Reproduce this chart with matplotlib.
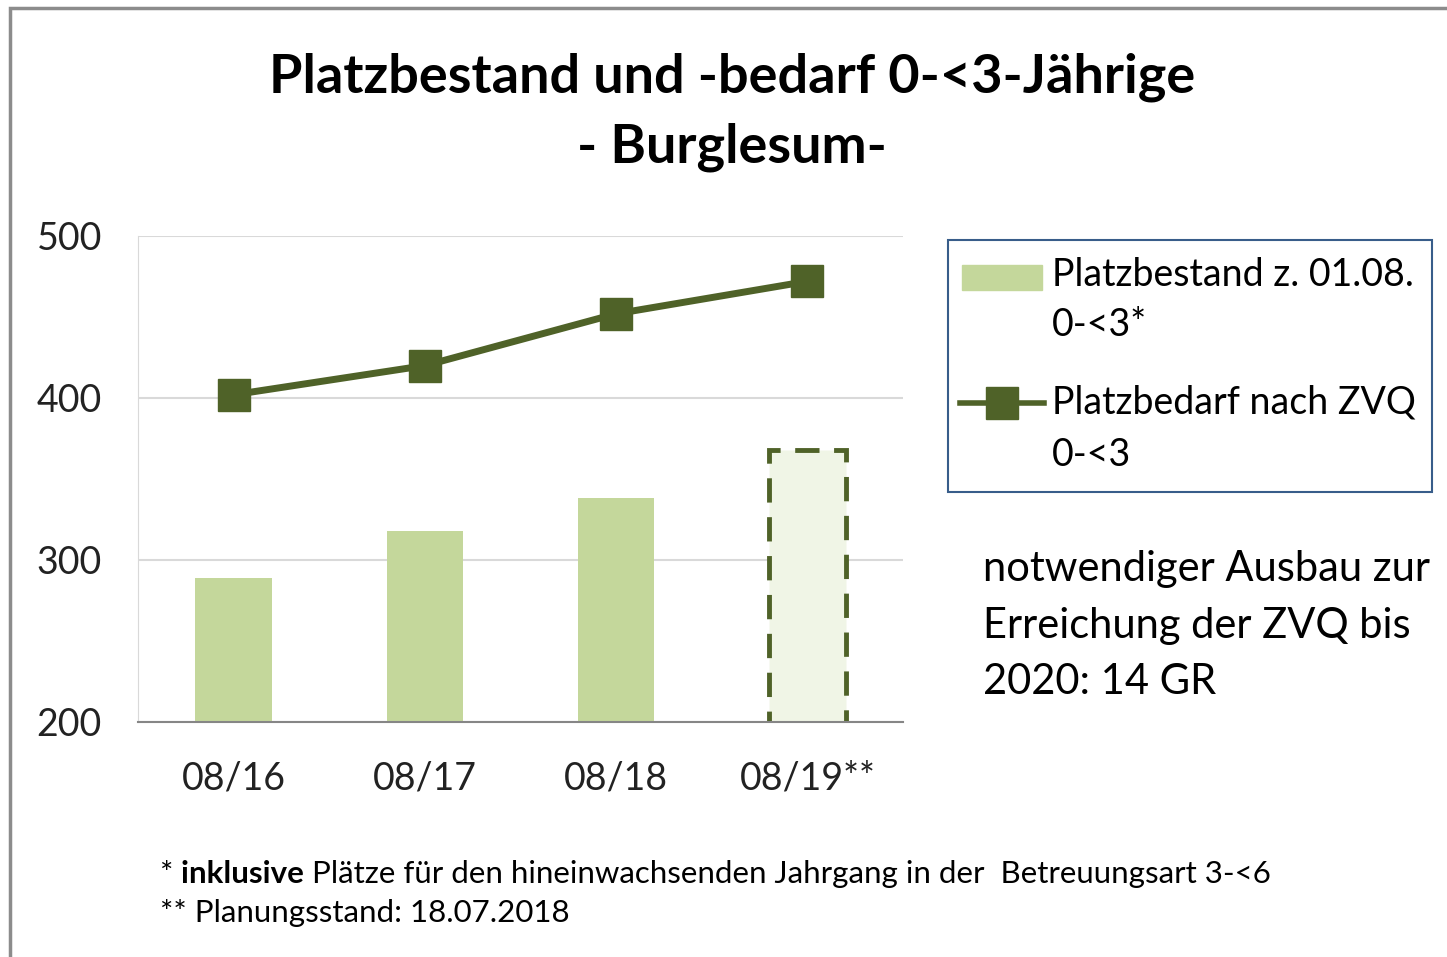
import matplotlib.pyplot as plt
from matplotlib.patches import Rectangle
from matplotlib.lines import Line2D

# data
periods = ['08/16', '08/17', '08/18', '08/19**']
bestand = [289, 318, 338, 368]      # Platzbestand z. 01.08. 0-<3*
bedarf = [402, 420, 452, 472]       # Platzbedarf nach ZVQ 0-<3

light_green = '#C4D79B'
dark_green = '#4F6228'
plan_fill = '#F0F5E6'

plt.rcParams['font.family'] = ['Lato', 'DejaVu Sans']

W, H = 1447, 957
fig = plt.figure(figsize=(W / 100, H / 100), dpi=100)
ax = fig.add_axes([138 / W, 1 - 722 / H, 765 / W, 486 / H])


def fx(px):
    return px / W


def fy(py):
    return 1 - py / H


x = list(range(len(periods)))

# existing places (last one is planned -> dashed outline)
ax.bar(x[:-1], bestand[:-1], width=0.4, color=light_green, zorder=2)
ax.bar(x[-1], bestand[-1], width=0.4, color=plan_fill, edgecolor=dark_green,
       linewidth=3.5, linestyle=(0, (5, 3)), zorder=2)

ax.plot(x, bedarf, color=dark_green, linewidth=5, marker='s', markersize=23,
        zorder=3)

ax.set_xlim(-0.5, 3.5)
ax.set_ylim(200, 500)
ax.set_yticks([200, 300, 400, 500])
ax.set_xticks(x)
ax.set_xticklabels(periods)
ax.tick_params(axis='both', length=0, labelsize=27, colors='#222222')
ax.tick_params(axis='x', pad=28)
ax.tick_params(axis='y', pad=26)
ax.grid(axis='y', color='#D9D9D9', linewidth=1.5, zorder=0)
ax.set_axisbelow(True)
for side in ['top', 'right']:
    ax.spines[side].set_visible(False)
ax.spines['left'].set_color('#D9D9D9')
ax.spines['bottom'].set_color('#868686')
ax.spines['bottom'].set_linewidth(1.5)

fig.text(0.506, fy(77), 'Platzbestand und -bedarf 0-<3-Jährige',
         ha='center', va='center', fontsize=39, fontweight='bold')
fig.text(0.506, fy(147), '- Burglesum-',
         ha='center', va='center', fontsize=39, fontweight='bold')

# legend box drawn by hand (handles aligned with first label line)
fig.patches.append(Rectangle((fx(948), fy(492)), fx(1432) - fx(948),
                             fy(240) - fy(492), transform=fig.transFigure,
                             facecolor='white', edgecolor='#385D8A',
                             linewidth=1.5))
fig.patches.append(Rectangle((fx(962), fy(290)), fx(1042) - fx(962),
                             fy(265) - fy(290), transform=fig.transFigure,
                             color=light_green))
fig.lines.append(Line2D([fx(960), fx(1044)], [fy(403), fy(403)],
                        transform=fig.transFigure, color=dark_green,
                        linewidth=4))
fig.lines.append(Line2D([fx(1002)], [fy(403)], transform=fig.transFigure,
                        color=dark_green, marker='s', markersize=23))
legend_lines = [('Platzbestand z. 01.08.', 275), ('0-<3*', 325),
                ('Platzbedarf nach ZVQ', 403), ('0-<3', 455)]
for s, py in legend_lines:
    fig.text(fx(1052), fy(py), s, ha='left', va='center', fontsize=27)

fig.text(fx(983), fy(550),
         'notwendiger Ausbau zur\nErreichung der ZVQ bis\n2020: 14 GR',
         ha='left', va='top', fontsize=30, linespacing=1.6)

# footnotes, pieces placed one after another
renderer = fig.canvas.get_renderer()
px = fx(160)
for piece, weight in [('* ', 'normal'), ('inklusive ', 'bold'),
                      ('Plätze für den hineinwachsenden Jahrgang in der  '
                       'Betreuungsart 3-<6', 'normal')]:
    t = fig.text(px, fy(874), piece, ha='left', va='center', fontsize=22.5,
                 fontweight=weight)
    bb = t.get_window_extent(renderer)
    px += bb.width / fig.bbox.width
fig.text(fx(160), fy(913), '** Planungsstand: 18.07.2018',
         ha='left', va='center', fontsize=22.5)

# outer frame of the chart object
fig.patches.append(Rectangle((fx(10), -0.1), 1.2, fy(8) + 0.1,
                             transform=fig.transFigure, fill=False,
                             edgecolor='#8C8C8C', linewidth=2.5))

fig.savefig('out.png', dpi=100)
